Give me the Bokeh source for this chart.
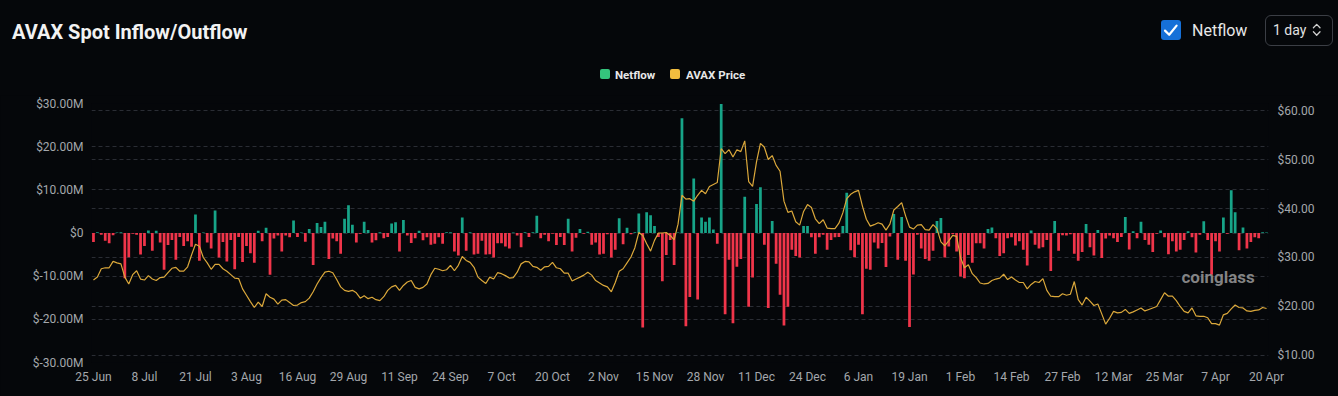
import pandas as pd
from bokeh.plotting import figure
from bokeh.layouts import column
from bokeh.models import (Range1d, LinearAxis, FixedTicker, Grid, Label, ColumnDataSource, Div)
from bokeh.embed import file_html
from bokeh.resources import INLINE

# ---------------- data ----------------
DATES = pd.date_range("2024-06-25", periods=300, freq="D")

NETFLOW = [  # $M, daily spot netflow
    -2.1, 0.2, -0.4, -1.8, -2.4, -0.5, 0.1, 0.2, -10.5, -5.6,
    -0.2, -0.4, -5.0, -3.0, 0.6, -4.1, 0.5, -2.2, -8.5, -2.8,
    -1.6, -6.2, -0.9, -3.0, -1.9, -3.2, 4.3, -6.4, 0.1, -2.2,
    -3.6, 5.2, -5.7, -2.1, -6.6, -1.6, -8.4, -0.9, -6.7, -3.0,
    -4.7, -6.9, 0.5, -1.9, 1.2, -9.7, -1.3, -0.6, -4.3, -0.6,
    -1.0, 2.9, -0.9, 0.1, -2.0, 0.9, -7.4, 2.3, 1.4, 2.6,
    -6.0, -1.3, -1.9, -4.8, 3.3, 6.4, 1.9, -2.2, -0.2, 2.6,
    0.7, -2.2, -1.7, 0.2, -1.2, -0.9, 2.2, 2.5, -4.3, 3.0,
    -0.6, -2.3, -1.2, 0.5, -1.7, -1.0, -2.7, -2.5, -1.0, -2.5,
    0.15, 0.15, -4.3, -5.2, 3.6, -4.1, 0.2, -5.0, -4.8, -1.8,
    -5.0, -4.9, -5.7, -2.4, -2.4, -3.1, -3.6, 0.1, -0.6, -3.3,
    0.2, -0.9, 0.2, 4.0, -1.2, -0.4, -1.9, -0.2, -2.8, -0.9,
    -2.8, 3.3, -4.3, -1.1, 0.9, -0.2, 0.3, -2.7, -2.2, -5.0,
    -4.8, -0.3, -5.7, -3.9, 3.4, -2.6, 1.2, -0.3, 0.2, 4.5,
    -21.9, 4.8, 4.1, 1.6, -0.9, -11.2, -5.1, -1.6, -7.4, 0.1,
    26.6, -21.6, -14.8, 12.6, -15.4, 3.6, 2.6, 3.6, 0.8, -2.5,
    29.9, -18.8, -6.2, -20.9, -7.8, -6.0, 8.4, -17.1, -10.3, 6.7,
    10.6, -2.7, -17.4, 2.8, -7.1, -14.3, -21.4, -17.1, -3.9, -5.3,
    -5.7, 1.6, 1.6, -1.0, -4.8, -1.0, -0.4, -3.9, -1.6, -1.0,
    -0.9, 1.6, 9.3, -4.0, -5.6, -2.7, -18.8, -8.3, -8.5, -2.2,
    -3.6, -2.3, -7.9, -0.8, 4.4, -6.2, 3.7, -6.4, -21.8, -9.6,
    -0.4, -3.6, -6.0, -6.4, -4.1, 2.8, 3.5, -5.7, -3.1, -0.3,
    -4.3, -10.1, -10.5, -5.1, -6.9, -2.4, -2.4, -3.6, 0.9, 1.3,
    -1.2, -5.3, -4.7, -1.2, -1.0, -2.9, -1.9, -3.9, -7.5, 0.6,
    -2.7, -3.6, -3.3, -1.6, -8.8, 2.8, -4.1, -0.5, -0.6, -0.3,
    -4.8, -6.4, -4.4, 2.1, -3.3, -5.2, 0.7, -5.8, -1.3, -0.6,
    -1.2, -2.1, -0.9, 3.7, -3.8, 0.4, -1.2, 2.6, -1.6, -2.7,
    -4.4, -0.2, 0.6, -1.0, -4.9, -1.9, -4.3, -3.9, -1.6, 0.4,
    -1.0, -4.5, -0.4, 2.7, -1.6, -9.7, -1.9, -4.3, 3.6, -0.2,
    9.9, 4.8, -4.0, 1.3, -3.6, -2.1, -1.0, -1.2, 0.2, 0.1,
]

PRICE = [  # AVAX price, $
    25.4, 26.0, 27.7, 27.9, 27.9, 29.2, 28.9, 28.7, 26.0, 24.6,
    26.5, 27.3, 25.6, 25.4, 26.3, 25.6, 25.3, 25.9, 26.0, 26.9,
    27.8, 28.0, 27.2, 27.2, 28.1, 30.5, 32.7, 32.3, 30.0, 28.9,
    27.6, 28.6, 28.6, 27.7, 27.2, 26.5, 25.8, 25.7, 23.6, 22.3,
    21.0, 19.8, 20.9, 20.0, 22.6, 21.9, 21.5, 20.5, 21.3, 21.4,
    20.8, 20.2, 20.3, 20.8, 21.0, 21.7, 23.0, 24.6, 25.9, 27.0,
    27.2, 26.9, 25.5, 24.0, 23.3, 23.1, 23.3, 22.8, 21.7, 22.2,
    21.6, 21.9, 21.4, 21.2, 22.0, 23.3, 24.0, 24.3, 23.3, 24.3,
    25.0, 25.3, 23.9, 23.6, 23.9, 24.6, 26.5, 27.8, 27.6, 27.3,
    27.5, 28.4, 27.3, 28.4, 30.2, 29.4, 29.0, 28.0, 26.0, 25.3,
    24.7, 26.0, 25.6, 26.9, 26.7, 26.3, 25.8, 25.9, 27.0, 28.7,
    29.2, 29.1, 28.2, 28.0, 27.4, 28.1, 28.2, 29.0, 27.9, 27.7,
    26.8, 26.8, 25.2, 25.6, 26.0, 26.4, 27.0, 26.4, 25.3, 24.8,
    24.3, 24.0, 23.0, 24.9, 27.2, 27.7, 28.9, 30.1, 32.0, 35.1,
    34.5, 32.8, 31.3, 33.5, 35.0, 35.0, 35.1, 34.5, 33.6, 36.8,
    42.7, 41.9, 42.0, 41.5, 42.7, 43.7, 43.0, 44.5, 44.9, 45.3,
    52.2, 51.2, 52.0, 50.5, 52.0, 51.6, 53.8, 45.5, 44.5, 49.5,
    53.3, 52.5, 50.0, 50.8, 48.8, 47.6, 41.5, 39.2, 39.5, 37.3,
    36.6, 39.4, 40.8, 40.2, 37.9, 36.9, 37.7, 36.0, 35.9, 35.9,
    37.0, 39.1, 42.0, 42.9, 43.4, 43.7, 40.5, 37.8, 36.4, 36.7,
    37.1, 36.8, 35.6, 36.8, 39.7, 40.4, 41.2, 38.5, 36.2, 35.8,
    36.6, 36.7, 35.7, 35.6, 36.7, 35.9, 33.2, 32.4, 33.4, 34.5,
    34.3, 30.0, 27.9, 28.5, 26.7, 25.9, 24.8, 24.6, 24.7, 25.3,
    25.6, 25.8, 26.6, 25.5, 26.0, 25.4, 24.9, 24.9, 23.6, 24.5,
    25.1, 24.9, 25.7, 23.3, 22.1, 22.0, 22.0, 22.6, 22.3, 22.5,
    25.1, 21.4, 20.3, 21.9, 21.1, 20.2, 20.5, 18.5, 16.4, 17.6,
    19.0, 18.7, 18.8, 19.4, 18.6, 18.9, 19.3, 19.7, 19.1, 19.4,
    19.7, 20.0, 21.4, 22.8, 22.1, 22.1, 21.2, 20.0, 19.0, 18.7,
    19.7, 18.1, 18.0, 18.0, 17.7, 16.5, 16.5, 16.2, 18.3, 18.6,
    19.5, 20.3, 19.8, 19.7, 19.1, 19.0, 19.2, 19.3, 19.8, 19.6,
]

X_TICK_LABELS = ["25 Jun", "8 Jul", "21 Jul", "3 Aug", "16 Aug", "29 Aug", "11 Sep",
                 "24 Sep", "7 Oct", "20 Oct", "2 Nov", "15 Nov", "28 Nov", "11 Dec",
                 "24 Dec", "6 Jan", "19 Jan", "1 Feb", "14 Feb", "27 Feb", "12 Mar",
                 "25 Mar", "7 Apr", "20 Apr"]
LEFT_TICKS = [-30, -20, -10, 0, 10, 20, 30]
LEFT_LABELS = ["$-30.00M", "$-20.00M", "$-10.00M", "$0", "$10.00M", "$20.00M", "$30.00M"]
RIGHT_TICKS = [10, 20, 30, 40, 50, 60]
RIGHT_LABELS = ["$10.00", "$20.00", "$30.00", "$40.00", "$50.00", "$60.00"]
SERIES_NAMES = ["Netflow", "AVAX Price"]
TITLE = "AVAX Spot Inflow/Outflow"
TOGGLE_TEXT = "Netflow"
INTERVAL_TEXT = "1 day"

# ---------------- style ----------------
W = 1338
HDR_H = 95
MAIN_H = 396 - HDR_H
BG = "#05070a"
GREEN = "#17a488"
RED = "#f0354a"
GOLD = "#dba83b"
LEG_GREEN = "#34c47c"
LEG_GOLD = "#f1bd3f"
AXIS_TXT = "#a4a7ac"
GRID = "#2a2d34"
FONT = "Roboto"

# ---------------- header (title, toggle, selector, legend) ----------------
chev = ('fill="none" stroke="#cfcfcf" stroke-width="1.3" stroke-linecap="round" '
        'stroke-linejoin="round"')
leg_html = "".join(
    f'<div style="position:absolute;left:{sx}px;top:69px;width:10px;height:10px;'
    f'border-radius:2px;background:{c};"></div>'
    f'<div style="position:absolute;left:{tx}px;top:67.5px;font-size:11.5px;line-height:14px;'
    f'font-weight:700;color:#e8e8e8;white-space:nowrap;">{name}</div>'
    for sx, tx, c, name in zip((600, 670), (615, 686), (LEG_GREEN, LEG_GOLD), SERIES_NAMES)
)
header_html = f"""
<div style="position:relative;width:{W}px;height:{HDR_H}px;background:{BG};
 font-family:{FONT},sans-serif;overflow:hidden;margin:0;padding:0;">
 <div style="position:absolute;left:12px;top:20px;font-size:20px;line-height:24px;
  font-weight:700;color:#f2f2f2;white-space:nowrap;">{TITLE}</div>
 <div style="position:absolute;left:1161px;top:20px;width:20px;height:20px;
  border-radius:3px;background:#1670d8;">
  <svg width="20" height="20" style="position:absolute;left:0;top:0;">
   <polyline points="4,10.6 8.2,14.8 15.6,5.6" fill="none" stroke="#ffffff"
    stroke-width="2.2" stroke-linecap="round" stroke-linejoin="round"/></svg></div>
 <div style="position:absolute;left:1192px;top:20.5px;font-size:16px;line-height:20px;
  color:#e8e8e8;white-space:nowrap;">{TOGGLE_TEXT}</div>
 <div style="position:absolute;left:1264.5px;top:14.5px;width:68px;height:31px;
  box-sizing:border-box;border:1px solid #3b3e45;border-radius:6px;"></div>
 <div style="position:absolute;left:1273px;top:21.2px;font-size:14px;line-height:18px;
  color:#e2e2e2;white-space:nowrap;">{INTERVAL_TEXT}</div>
 <svg width="12" height="16" style="position:absolute;left:1311px;top:22px;">
  <polyline points="2.4,5.8 5.7,2.4 9,5.8" {chev}/>
  <polyline points="2.4,9.8 5.7,13.2 9,9.8" {chev}/></svg>
 {leg_html}
</div>
"""
header = Div(text=header_html, width=W, height=HDR_H, margin=0,
             styles={"background-color": BG, "padding": "0", "margin": "0"})

# ---------------- main chart ----------------
n = len(DATES)
idx = list(range(n))
src = ColumnDataSource(dict(
    x=idx, flow=NETFLOW, price=PRICE,
    color=[GREEN if v >= 0 else RED for v in NETFLOW],
))

fig = figure(width=W, height=MAIN_H, output_backend="svg", toolbar_location=None,
             x_range=Range1d(-0.5, n - 0.5), y_range=Range1d(-30, 30),
             background_fill_color=BG, border_fill_color=BG, outline_line_color=None,
             min_border_left=91, min_border_right=70, min_border_top=8, min_border_bottom=34,
             margin=0, styles={"background-color": BG})
fig.extra_y_ranges = {"price": Range1d(8.5714, 61.4286)}

fig.xgrid.visible = False
fig.ygrid.ticker = FixedTicker(ticks=LEFT_TICKS)
fig.ygrid.grid_line_color = GRID
fig.ygrid.grid_line_dash = "4 3"

ly = fig.yaxis[0]
ly.ticker = FixedTicker(ticks=LEFT_TICKS)
ly.major_label_overrides = dict(zip(LEFT_TICKS, LEFT_LABELS))

ry = LinearAxis(y_range_name="price", ticker=FixedTicker(ticks=RIGHT_TICKS),
                major_label_overrides=dict(zip(RIGHT_TICKS, RIGHT_LABELS)))
fig.add_layout(ry, "right")
fig.add_layout(Grid(dimension=1, axis=ry, ticker=FixedTicker(ticks=RIGHT_TICKS),
                    y_range_name="price", grid_line_color=GRID, grid_line_dash="4 3"))

xt = list(range(0, n, 13))
fig.xaxis.ticker = FixedTicker(ticks=xt)
fig.xaxis.major_label_overrides = dict(zip(xt, X_TICK_LABELS))

for ax, standoff in ((fig.xaxis[0], 7), (ly, 8), (ry, 9)):
    ax.axis_line_color = None
    ax.major_tick_line_color = None
    ax.minor_tick_line_color = None
    ax.major_tick_out = 0
    ax.minor_tick_out = 0
    ax.major_label_standoff = standoff
    ax.major_label_text_color = AXIS_TXT
    ax.major_label_text_font = FONT
    ax.major_label_text_font_size = "12px"

fig.vbar(x="x", top="flow", bottom=0, width=0.7, fill_color="color", line_color=None, source=src)
fig.line(x="x", y="price", source=src, y_range_name="price", line_color=GOLD, line_width=1.2)

# watermark (frame-relative screen coordinates)
fig.add_layout(Label(x=1090, y=86, x_units="screen", y_units="screen", text="coinglass",
                     text_font=FONT, text_font_style="bold", text_font_size="17px",
                     text_color="#9b9b9b", text_alpha=0.85, text_baseline="middle"))

p = column(header, fig, spacing=0, margin=0, styles={"background-color": BG})
open("out.html", "w").write(file_html(p, INLINE))
